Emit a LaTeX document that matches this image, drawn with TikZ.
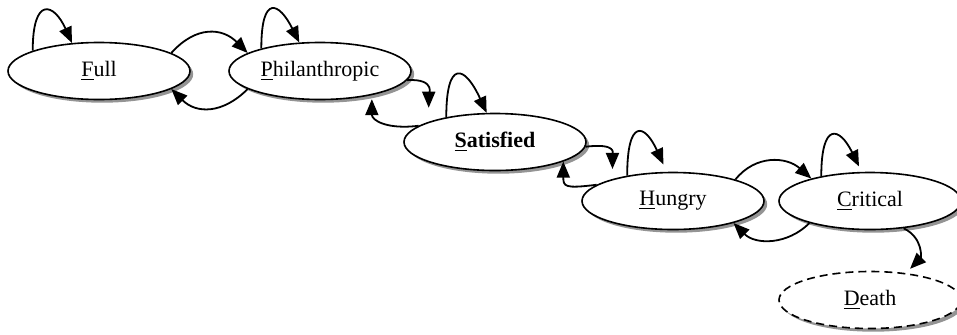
\documentclass[tikz,border=0pt]{standalone}
\usepackage{fontspec}
\setmainfont{Liberation Serif}
\usetikzlibrary{shapes.geometric, arrows.meta, shadows}
\begin{document}
\begin{tikzpicture}[x=0.5pt, y=0.5pt, every node/.style={font=\fontsize{11}{13}\selectfont},
  mood/.style={ellipse, draw, line width=0.8pt, fill=white, inner sep=0pt, minimum width=91pt, minimum height=28.5pt,
    drop shadow={shadow xshift=1.6pt, shadow yshift=-1.6pt, fill=black!60, opacity=0.7}},
  trans/.style={line width=0.9pt, -{Triangle[length=8pt, width=6.5pt]}}]
\useasboundingbox (0,0) rectangle (957,334);
% states
\node[mood] (full) at (99,263) {\underline{F}ull};
\node[mood] (phil) at (320,263) {\underline{P}hilanthropic};
\node[mood] (sat) at (495,192) {\textbf{\underline{S}atisfied}};
\node[mood] (hungry) at (673,133) {\underline{H}ungry};
\node[mood] (crit) at (870,133) {\underline{C}ritical};
\node[mood, dash pattern=on 4pt off 2.5pt] (death) at (870,34) {\underline{D}eath};
% self loops
\draw[trans] (full.163) .. controls +(0,55) and +(-18,40) .. (full.134);
\draw[trans] (phil.159) .. controls +(0,55) and +(-20,40) .. (phil.126);
\draw[trans] (sat.153) .. controls +(0,58) and +(-22,48) .. (sat.106);
\draw[trans, shorten >=4pt] (hungry.151) .. controls +(0,58) and +(-22,48) .. (hungry.102);
\draw[trans, shorten >=3pt] (crit.153) .. controls +(0,55) and +(-22,45) .. (crit.106);
% moving between states
\draw[trans] (full.14) .. controls +(25,28) and +(-25,25) .. (phil.166);
\draw[trans] (phil.194) .. controls +(-25,-25) and +(25,-25) .. (full.346);
\draw[trans, shorten >=7pt] (phil.354) .. controls +(30,2) and +(0,25) .. (sat.163);
\draw[trans, shorten >=2pt] (sat.168) .. controls +(-32,-4) and +(0,-25) .. (phil.335);
\draw[trans, shorten >=5pt] (sat.357) .. controls +(32,4) and +(0,25) .. (hungry.160);
\draw[trans] (hungry.168) .. controls +(-32,-4) and +(0,-25) .. (sat.344);
\draw[trans] (hungry.19) .. controls +(20,25) and +(-25,22) .. (crit.159);
\draw[trans] (crit.200) .. controls +(-22,-22) and +(22,-22) .. (hungry.340);
\draw[trans, shorten >=3pt] (crit.321) .. controls +(20,-10) and +(15,15) .. (death.37);
\end{tikzpicture}
\end{document}
